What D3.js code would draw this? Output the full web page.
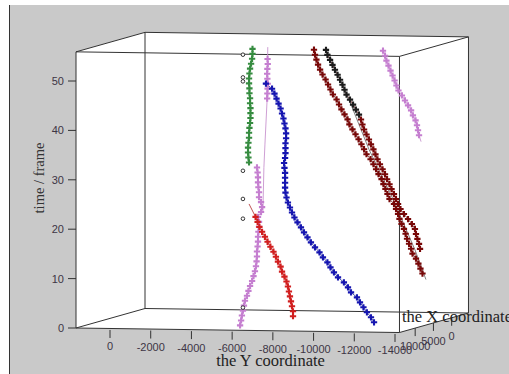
<!DOCTYPE html>
<html>
<head>
<meta charset="utf-8">
<script src="https://cdn.jsdelivr.net/npm/d3@7/dist/d3.min.js"></script>
<style>
  html, body { margin: 0; padding: 0; background: #fff; }
  svg { display: block; }
</style>
</head>
<body>
<svg id="chart" width="509" height="374"></svg>
<script>
// time / frame axis ticks and the two horizontal axes
const timeTicks = [0, 10, 20, 30, 40, 50];
const yCoordTicks = [0, -2000, -4000, -6000, -8000, -10000, -12000, -14000];
const xCoordTicks = [10000, 5000, 0];

// tracks: first frame + "the Y coordinate" for every frame
const greenStart = 34;
const greenY = [-6830, -6800, -6780, -6780, -6800, -6830, -6830, -6850, -6880, -6900, -6900, -6900,
  -6880, -6880, -6850, -6850, -6830, -6830, -6850, -6880, -6930, -6980, -7000, -7000];

const pinkStart = 1;
const pinkY = [-6390, -6440, -6480, -6530, -6580, -6630, -6730, -6800, -6880, -6980, -7050, -7120,
  -7170, -7200, -7220, -7220, -7250, -7270, -7270, -7290, -7320, -7320, -7270, -7420, -7470, -7420,
  -7320, -7320, -7290, -7270, -7270, -7250, -7220];
const pinkUpperStart = 47;
const pinkUpperY = [-7720, -7730, -7740, -7750, -7730, -7720, -7730, -7750, -7740];
const pinkFitT = [57.4, 47, 37.6, 33, 24];
const pinkFitY = [-7750, -7720, -7610, -7560, -7510];

const blueStart = 2;
const blueY = [-12970, -12820, -12620, -12450, -12280, -12130, -11840, -11690, -11490, -11200,
  -11000, -10830, -10680, -10460, -10290, -10070, -9870, -9700, -9530, -9380,
  -9210, -9060, -8940, -8840, -8740, -8670, -8620, -8600, -8600, -8600,
  -8600, -8570, -8550, -8600, -8620, -8620, -8620, -8650, -8650, -8620,
  -8570, -8520, -8450, -8380, -8280, -8180, -8080, -7960, -7660];

const redStart = 3;
const redY = [-8990, -8990, -8940, -8890, -8840, -8790, -8740, -8670, -8570, -8450, -8380, -8250,
  -8150, -8030, -7880, -7740, -7610, -7470, -7340, -7250, -7150];
const redFitT = [23, 25.6];
const redFitY = [-7150, -6830];

const maroonAStart = 12;
const maroonAY = [-15350, -15250, -15150, -15030, -14860, -14790, -14690, -14590, -14520, -14440,
  -14320, -14220, -14150, -14050, -13950, -13730, -13630, -13530, -13430, -13340,
  -13190, -13070, -12940, -12800, -12600, -12480, -12350, -12210, -12060, -11910,
  -11760, -11670, -11520, -11370, -11250, -11130, -10950, -10830, -10710, -10590,
  -10440, -10320, -10220, -10140, -10070, -10020];

const maroonBStart = 17;
const maroonBBlackFrom = 44;
const maroonBY = [-15230, -15180, -15100, -15030, -14980, -14830, -14640, -14440, -14270, -14150,
  -14050, -13950, -13830, -13730, -13610, -13510, -13390, -13260, -13140, -13040,
  -12940, -12820, -12720, -12600, -12480, -12400, -12330, -12230, -12080, -11940,
  -11790, -11620, -11520, -11420, -11300, -11180, -11050, -10930, -10810, -10680, -10610];
const maroonFitT = [57.6, 47, 37, 27, 16.8, 10.8];
const maroonFitY = [-10610, -11740, -12720, -13900, -14980, -15520];

const violetStart = 40;
const violetY = [-15180, -15130, -15080, -15010, -14880, -14790, -14640, -14490, -14340, -14170,
  -14070, -13980, -13880, -13780, -13680, -13580, -13510, -13410];
const violetFitT = [40, 38.7];
const violetFitY = [-15180, -15280];

// open circles
const circleT = [55.8, 51.2, 50.4, 32.3, 26.6, 22.6, 4.6];
const circleY = [-6530, -6530, -6530, -6530, -6530, -6530, -6530];

const svg = d3.select('#chart');

// box extents
const yLeft = 1670, yRight = -14220, tTop = 55.9;
const xFront = 14300, xBack = -4600;

const xs = d3.scaleLinear().domain([0, -14000]).range([110, 395]);
const ts = d3.scaleLinear().domain([0, 50]).range([328, 81]);
const ds = d3.scaleLinear().domain([xFront, xBack]).range([0, 1]);

// oblique projection of (Y coord, X coord, time)
function proj(y, x, t) {
  const bx = xs(y);
  const f = ds(x);
  return [bx + 69 * f, ts(t) + 0.014 * (bx - 76) - 19.5 * f];
}

// background
svg.append('rect').attr('x', 9).attr('y', 5).attr('width', 500).attr('height', 369).attr('fill', '#c9c9c9');
svg.append('line').attr('x1', 9.5).attr('x2', 9.5).attr('y1', 5).attr('y2', 374)
  .attr('stroke', '#333').attr('stroke-width', 1);

// white hull of the box
const hull = [
  proj(yLeft, xFront, tTop), proj(yLeft, xBack, tTop), proj(yRight, xBack, tTop),
  proj(yRight, xBack, 0), proj(yRight, xFront, 0), proj(yLeft, xFront, 0)
];
svg.append('polygon').attr('points', hull.map(p => p.join(',')).join(' ')).attr('fill', '#fff');

// box edges
const corners = [];
[xFront, xBack].forEach(x => {
  [0, tTop].forEach(t => {
    [yLeft, yRight].forEach(y => corners.push({ x, t, y }));
  });
});
const edges = [];
for (let i = 0; i < corners.length; i++) {
  for (let j = i + 1; j < corners.length; j++) {
    const a = corners[i], b = corners[j];
    const diff = (a.x !== b.x) + (a.t !== b.t) + (a.y !== b.y);
    if (diff === 1) edges.push([a, b]);
  }
}
svg.append('g').selectAll('line').data(edges).join('line')
  .attr('x1', d => proj(d[0].y, d[0].x, d[0].t)[0])
  .attr('y1', d => proj(d[0].y, d[0].x, d[0].t)[1])
  .attr('x2', d => proj(d[1].y, d[1].x, d[1].t)[0])
  .attr('y2', d => proj(d[1].y, d[1].x, d[1].t)[1])
  .attr('stroke', '#333').attr('stroke-width', 1);

const tickColor = '#3d3545';
const tickFont = 'Liberation Sans, Arial, sans-serif';

// time axis
const tAxis = svg.append('g');
tAxis.selectAll('line').data(timeTicks).join('line')
  .attr('x1', 68).attr('x2', 76)
  .attr('y1', d => proj(yLeft, xFront, d)[1]).attr('y2', d => proj(yLeft, xFront, d)[1])
  .attr('stroke', '#333');
tAxis.selectAll('text').data(timeTicks).join('text')
  .attr('x', 64).attr('y', d => proj(yLeft, xFront, d)[1]).attr('dy', '0.36em')
  .attr('text-anchor', 'end').attr('font-family', tickFont).attr('font-size', 11)
  .attr('fill', tickColor).text(d => d);

// Y coordinate axis (front bottom edge)
const yAxis = svg.append('g');
yAxis.selectAll('line').data(yCoordTicks).join('line')
  .attr('x1', d => proj(d, xFront, 0)[0]).attr('x2', d => proj(d, xFront, 0)[0])
  .attr('y1', d => proj(d, xFront, 0)[1] + 1.5).attr('y2', d => proj(d, xFront, 0)[1] + 9.5)
  .attr('stroke', '#333');
yAxis.selectAll('text').data(yCoordTicks).join('text')
  .attr('x', d => proj(d, xFront, 0)[0]).attr('y', d => proj(d, xFront, 0)[1] + 22)
  .attr('text-anchor', 'middle').attr('font-family', tickFont).attr('font-size', 11)
  .attr('fill', tickColor).text(d => d);

// X coordinate axis (depth edge)
const xAxis = svg.append('g');
xAxis.selectAll('line').data(xCoordTicks).join('line')
  .attr('x1', d => proj(yRight, d, 0)[0]).attr('x2', d => proj(yRight, d, 0)[0])
  .attr('y1', d => proj(yRight, d, 0)[1]).attr('y2', d => proj(yRight, d, 0)[1] + 8)
  .attr('stroke', '#333');
xAxis.selectAll('text').data(xCoordTicks).join('text')
  .attr('x', d => proj(yRight, d, 0)[0]).attr('y', d => proj(yRight, d, 0)[1] + 22)
  .attr('text-anchor', 'middle').attr('font-family', tickFont).attr('font-size', 11)
  .attr('fill', tickColor).text(d => d);

// axis titles
const titleFont = 'Liberation Serif, Times New Roman, serif';
svg.append('text').attr('transform', 'translate(44,178) rotate(-90)')
  .attr('text-anchor', 'middle').attr('font-family', titleFont).attr('font-size', 14.5)
  .attr('fill', '#333').text('time / frame');
svg.append('text').attr('x', 270.5).attr('y', 366)
  .attr('text-anchor', 'middle').attr('font-family', titleFont).attr('font-size', 16.5)
  .attr('fill', '#222').text('the Y coordinate');
svg.append('text').attr('x', 402).attr('y', 322)
  .attr('font-family', titleFont).attr('font-size', 16.5)
  .attr('fill', '#222').text('the X coordinate');

// tracks
function pts(start, ys) { return ys.map((y, i) => ({ t: start + i, y })); }
function fit(tArr, yArr) { return tArr.map((t, i) => ({ t, y: yArr[i] })); }

const tracks = [
  { pts: pts(greenStart, greenY), color: '#368c40', line: '#5a9a60' },
  { pts: pts(pinkStart, pinkY), color: '#c57fd0', line: '#c894cf' },
  { pts: pts(pinkUpperStart, pinkUpperY), color: '#c57fd0', line: '#c894cf' },
  { pts: pts(blueStart, blueY), color: '#1515b0', line: '#3a46a0' },
  { pts: pts(redStart, redY), color: '#d11f1f', line: '#b84040' },
  { pts: pts(maroonAStart, maroonAY), color: '#780808', line: '#7a3030' },
  { pts: pts(maroonBStart, maroonBY), color: '#780808', line: '#7a3030', blackFrom: maroonBBlackFrom },
  { pts: pts(violetStart, violetY), color: '#c57fd0', line: '#c894cf' }
];
const fits = [
  { pts: fit(pinkFitT, pinkFitY), color: '#c894cf' },
  { pts: fit(redFitT, redFitY), color: '#b84040' },
  { pts: fit(maroonFitT, maroonFitY), color: '#777' },
  { pts: fit(violetFitT, violetFitY), color: '#c894cf' }
];

const line = d3.line()
  .x(d => proj(d.y, xFront, d.t)[0])
  .y(d => proj(d.y, xFront, d.t)[1]);

svg.append('g').selectAll('path').data(tracks.concat(fits)).join('path')
  .attr('d', d => line(d.pts)).attr('fill', 'none')
  .attr('stroke', d => d.line || d.color).attr('stroke-width', 0.9);

const cross = d3.symbol().type(d3.symbolCross).size(22);
tracks.forEach(tr => {
  svg.append('g').selectAll('path').data(tr.pts).join('path')
    .attr('d', cross)
    .attr('transform', d => `translate(${proj(d.y, xFront, d.t).join(',')})`)
    .attr('fill', d => (tr.blackFrom !== undefined && d.t >= tr.blackFrom) ? '#1c1c1c' : tr.color);
});

// open circles
svg.append('g').selectAll('circle').data(circleT).join('circle')
  .attr('cx', (d, i) => proj(circleY[i], xFront, d)[0])
  .attr('cy', (d, i) => proj(circleY[i], xFront, d)[1])
  .attr('r', 1.8).attr('fill', '#fff').attr('stroke', '#222').attr('stroke-width', 0.9);
</script>
</body>
</html>
